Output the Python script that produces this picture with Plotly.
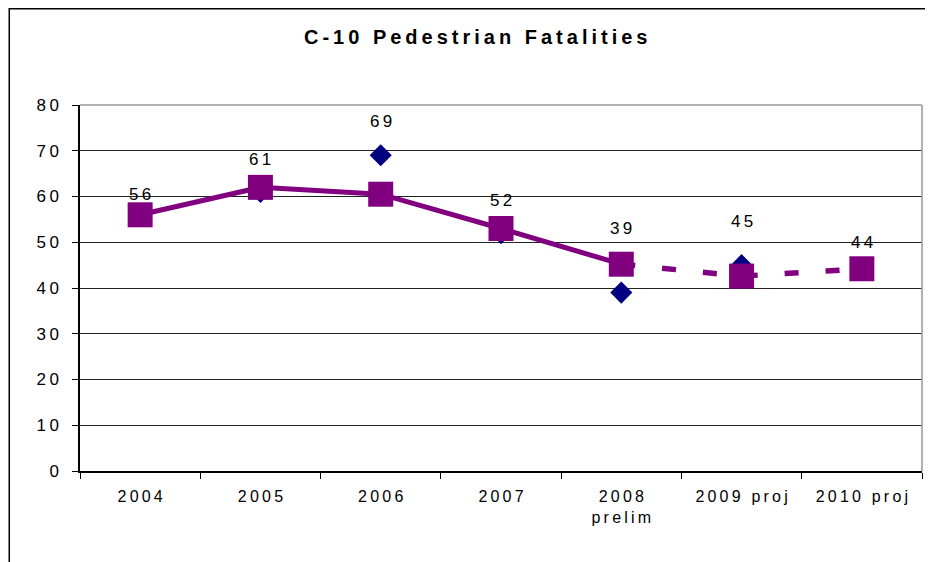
import plotly.graph_objects as go

years = ["2004", "2005", "2006", "2007", "2008<br>prelim", "2009 proj", "2010 proj"]
fatalities = [56, 61, 69, 52, 39, 45, 44]
trend = [56, 62, 60.5, 53, 45.2, 42.6, 44.2]
label_shift = [20, 32, 34, 33, 64, 44, 27]

FONT = "Liberation Sans, Arial, sans-serif"
PURPLE = "#800080"
NAVY = "#000080"
THIN = "\u2009"


def spaced(s):
    # the original chart is drawn with wide letter spacing
    return "<br>".join(THIN.join(part) for part in s.split("<br>"))


xs = list(range(len(years)))

fig = go.Figure()
fig.add_trace(go.Scatter(
    x=xs, y=fatalities, mode="markers",
    marker=dict(symbol="diamond", size=17, color=NAVY),
))
fig.add_trace(go.Scatter(
    x=xs[4:], y=trend[4:], mode="lines",
    line=dict(color=PURPLE, width=5.5, dash="14px,27px"),
))
fig.add_trace(go.Scatter(
    x=xs[:5], y=trend[:5], mode="lines",
    line=dict(color=PURPLE, width=5),
))
fig.add_trace(go.Scatter(
    x=xs, y=trend, mode="markers",
    marker=dict(symbol="square", size=25, color=PURPLE),
))

for x, v, s in zip(xs, fatalities, label_shift):
    fig.add_annotation(x=x, y=v, text=spaced(str(v)), showarrow=False, yshift=s,
                       font=dict(family=FONT, size=17, color="black"))

fig.add_shape(type="rect", xref="paper", yref="paper",
              x0=-0.084, x1=1.06, y0=-0.4, y1=1.263,
              line=dict(color="black", width=1.5))

fig.update_layout(
    width=933, height=562,
    margin=dict(l=72, r=19, t=97, b=99),
    paper_bgcolor="white", plot_bgcolor="white",
    showlegend=False,
    title=dict(text="<b>" + spaced("C-10 Pedestrian Fatalities") + "</b>",
               x=0.47, xref="paper", xanchor="center",
               y=0.948, yanchor="middle",
               font=dict(family=FONT, size=20, color="black")),
    font=dict(family=FONT, size=16, color="black"),
)
fig.update_xaxes(
    range=[-0.5, len(years) - 0.5], tickvals=xs,
    ticktext=[spaced(y) for y in years], ticks="",
    showline=True, linecolor="black", linewidth=1.5,
    showgrid=False, zeroline=False, tickangle=0, ticklabelstandoff=10,
    tickfont=dict(family=FONT, size=16, color="black"),
    minor=dict(tick0=0.5, dtick=1, ticks="outside", ticklen=6, tickcolor="black",
               showgrid=False),
)
fig.update_yaxes(
    range=[0, 80], dtick=10, ticks="outside", ticklen=6, tickcolor="black",
    showline=True, linecolor="black", linewidth=1.5,
    showgrid=True, gridcolor="#222", gridwidth=1, zeroline=False,
    ticklabelstandoff=10,
    tickvals=list(range(0, 81, 10)),
    ticktext=[spaced(str(t)) for t in range(0, 81, 10)],
    tickfont=dict(family=FONT, size=17, color="black"),
)
fig.add_shape(type="line", xref="paper", yref="paper", x0=1, x1=1, y0=0, y1=1,
              line=dict(color="#999", width=1.5))
fig.add_shape(type="line", xref="paper", yref="paper", x0=0, x1=1, y0=1, y1=1,
              line=dict(color="#999", width=1.5))

fig.write_html("out.html")
